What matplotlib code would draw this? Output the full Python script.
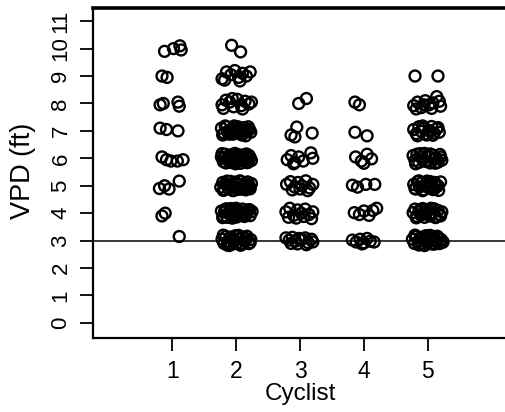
import matplotlib

matplotlib.use("Agg")
import matplotlib.pyplot as plt

plt.rcParams["font.family"] = ["Liberation Sans", "DejaVu Sans"]

# x = cyclist number plus jitter, y = VPD in feet (jittered)
cyc1_x = [0.88, 1.02, 1.12, 1.14, 0.84, 0.92, 0.81, 0.86, 1.09, 1.11,
          0.81, 0.91, 1.09, 0.84, 0.91, 0.98, 1.08, 1.17, 0.80, 0.88,
          0.95, 1.11, 0.84, 0.89, 1.11]
cyc1_y = [9.90, 10.00, 10.10, 9.95, 9.00, 8.95, 7.95, 8.00, 8.05, 7.90,
          7.10, 7.05, 7.00, 6.05, 5.95, 5.90, 5.90, 5.95, 4.90, 5.00,
          4.88, 5.17, 3.90, 4.00, 3.15]

cyc2_x = ([1.93, 2.07]
          + [1.78, 1.85, 1.92, 1.98, 2.04, 2.10, 2.16, 2.22, 1.82, 2.06]
          + [1.78, 1.84, 1.90, 1.96, 2.02, 2.08, 2.14, 2.20, 1.80, 1.94, 2.10, 2.24]
          + [1.77, 1.81, 1.85, 1.89, 1.93, 1.97, 2.01, 2.05, 2.09, 2.13, 2.17, 2.21,
             1.79, 1.83, 1.87, 1.91, 1.95, 1.99, 2.03, 2.07, 2.11, 2.15, 2.19, 2.23,
             1.88, 1.96, 2.04, 2.12]
          + [1.77, 1.80, 1.83, 1.86, 1.89, 1.92, 1.95, 1.98, 2.01, 2.04, 2.07, 2.10,
             2.13, 2.16, 2.19, 2.22, 2.24, 1.78, 1.84, 1.90, 1.96, 2.02, 2.08, 2.14,
             2.20, 1.81, 1.93, 2.05, 2.17, 1.99, 1.87, 1.94, 2.00, 2.11, 2.18]
          + [1.76, 1.79, 1.82, 1.85, 1.88, 1.91, 1.94, 1.97, 2.00, 2.03, 2.06, 2.09,
             2.12, 2.15, 2.18, 2.21, 2.24, 1.80, 1.86, 1.92, 1.98, 2.04, 2.10, 2.16,
             2.22, 1.83, 1.95, 2.07, 2.19, 2.01, 1.89, 1.97, 2.05, 2.13, 2.20]
          + [1.77, 1.80, 1.83, 1.86, 1.89, 1.92, 1.95, 1.98, 2.01, 2.04, 2.07, 2.10,
             2.13, 2.16, 2.19, 2.22, 2.25, 1.79, 1.85, 1.91, 1.97, 2.03, 2.09, 2.15,
             2.21, 1.82, 1.94, 2.06, 2.18, 2.00, 1.88, 1.96, 2.08, 2.14]
          + [1.78, 1.81, 1.84, 1.87, 1.90, 1.93, 1.96, 1.99, 2.02, 2.05, 2.08, 2.11,
             2.14, 2.17, 2.20, 2.23, 1.80, 1.86, 1.92, 1.98, 2.04, 2.10, 2.16, 2.22,
             1.89, 2.07])
cyc2_y = ([10.12, 9.88]
          + [8.90, 9.15, 9.05, 9.20, 8.95, 9.10, 9.00, 9.15, 8.85, 8.82]
          + [7.95, 8.12, 8.05, 7.88, 8.15, 7.92, 8.08, 7.98, 7.82, 8.18, 7.80, 8.05]
          + [7.10, 6.92, 7.15, 6.88, 7.05, 7.18, 6.95, 7.08, 6.85, 7.12, 6.98, 7.05,
             6.85, 7.18, 6.95, 7.02, 6.88, 7.12, 7.15, 6.90, 7.05, 6.82, 7.15, 6.95,
             7.00, 6.97, 7.03, 6.99]
          + [6.05, 5.88, 6.15, 5.95, 6.10, 5.85, 6.02, 6.18, 5.90, 6.08, 5.82, 6.12,
             5.97, 6.16, 5.86, 6.03, 5.92, 6.17, 5.83, 6.00, 5.87, 6.14, 6.06, 5.89,
             6.11, 6.01, 6.13, 5.94, 5.84, 5.80, 6.00, 5.96, 6.04, 5.98, 6.02]
          + [4.95, 5.12, 4.86, 5.05, 4.90, 5.16, 4.98, 4.84, 5.10, 4.92, 5.18, 4.88,
             5.03, 4.85, 5.14, 4.96, 5.08, 4.83, 5.17, 5.00, 5.13, 4.87, 4.94, 5.11,
             4.89, 5.07, 4.82, 5.15, 5.02, 4.91, 5.01, 4.97, 5.04, 4.99, 5.02]
          + [4.08, 3.90, 4.14, 3.85, 4.02, 4.17, 3.93, 4.10, 3.86, 4.05, 3.95, 4.15,
             3.88, 4.03, 4.12, 3.91, 4.06, 3.84, 4.16, 3.98, 3.87, 4.11, 4.00, 3.92,
             4.13, 4.04, 3.82, 3.96, 4.09, 4.18, 4.01, 3.97, 4.03, 3.99]
          + [3.05, 2.90, 3.15, 2.95, 3.10, 2.86, 3.02, 3.18, 2.92, 3.08, 2.88, 3.12,
             2.97, 3.16, 2.89, 3.04, 3.20, 2.84, 3.13, 2.99, 3.19, 2.87, 3.07, 2.93,
             2.82, 2.83])

cyc3_x = ([2.98, 3.10]
          + [2.86, 2.95, 3.19, 2.92]
          + [2.80, 2.86, 2.92, 2.98, 3.05, 3.17, 3.20, 2.90]
          + [2.79, 2.85, 2.92, 2.97, 3.03, 3.09, 3.15, 3.20, 2.88, 3.00, 3.12]
          + [2.78, 2.84, 2.90, 2.96, 3.02, 3.08, 3.14, 3.20, 2.82, 2.94, 3.06, 3.18]
          + [2.78, 2.83, 2.88, 2.93, 2.98, 3.03, 3.08, 3.13, 3.18, 2.86, 2.96, 3.10, 3.20])
cyc3_y = ([8.00, 8.18]
          + [6.85, 7.14, 6.92, 6.78]
          + [5.95, 6.10, 5.85, 6.05, 5.90, 6.20, 6.00, 5.80]
          + [5.05, 5.15, 4.95, 5.12, 5.00, 5.18, 4.92, 5.05, 4.85, 4.88, 4.82]
          + [4.05, 4.18, 3.92, 4.12, 4.00, 4.15, 3.95, 4.05, 3.85, 3.82, 3.88, 3.80]
          + [3.10, 3.02, 3.12, 2.98, 3.08, 3.05, 3.10, 2.92, 3.05, 2.90, 2.88, 2.85, 2.95])

cyc4_x = ([3.86, 3.93]
          + [3.86, 4.05]
          + [3.87, 3.96, 4.05, 4.12, 4.00]
          + [3.82, 3.90, 4.03, 4.17]
          + [3.85, 3.93, 4.00, 4.08, 4.14, 4.20]
          + [3.82, 3.88, 3.94, 4.00, 4.05, 4.10, 4.16, 3.97])
cyc4_y = ([8.05, 7.95]
          + [6.95, 6.82]
          + [6.05, 5.90, 6.15, 5.98, 5.82]
          + [5.02, 4.95, 5.05, 5.05]
          + [4.02, 3.95, 4.08, 3.92, 4.10, 4.18]
          + [3.02, 2.95, 3.05, 2.92, 3.08, 2.98, 2.95, 2.88])

cyc5_x = ([4.80, 5.16]
          + [4.78, 4.84, 4.90, 4.96, 5.02, 5.08, 5.14, 5.20, 4.82, 4.94, 5.06, 5.18]
          + [4.78, 4.82, 4.86, 4.90, 4.94, 4.98, 5.02, 5.06, 5.10, 5.14, 5.18, 4.84,
             4.92, 5.00, 5.08, 5.16]
          + [4.77, 4.80, 4.83, 4.86, 4.89, 4.92, 4.95, 4.98, 5.01, 5.04, 5.07, 5.10,
             5.13, 5.16, 5.19, 5.22, 4.81, 4.88, 4.96, 5.04, 5.12, 5.20]
          + [4.78, 4.81, 4.84, 4.87, 4.90, 4.93, 4.96, 4.99, 5.02, 5.05, 5.08, 5.11,
             5.14, 5.17, 5.20, 4.80, 4.86, 4.92, 4.98, 5.04, 5.10, 5.16, 4.95, 5.07]
          + [4.77, 4.80, 4.83, 4.86, 4.89, 4.92, 4.95, 4.98, 5.01, 5.04, 5.07, 5.10,
             5.13, 5.16, 5.19, 5.22, 4.82, 4.90, 4.97, 5.05, 5.12, 5.20, 4.94, 5.03]
          + [4.76, 4.79, 4.82, 4.85, 4.88, 4.91, 4.94, 4.97, 5.00, 5.03, 5.06, 5.09,
             5.12, 5.15, 5.18, 5.21, 5.24, 4.80, 4.86, 4.92, 4.98, 5.04, 5.10, 5.16,
             5.22, 4.95, 5.01, 5.13])
cyc5_y = ([9.00, 9.00]
          + [7.92, 8.05, 7.85, 8.10, 7.95, 8.02, 8.25, 7.90, 7.80, 7.95, 7.82, 8.08]
          + [7.05, 6.90, 7.15, 6.98, 7.10, 6.85, 7.02, 7.16, 6.92, 7.08, 6.95, 6.82,
             7.18, 6.88, 6.84, 7.12]
          + [6.10, 5.92, 6.15, 5.85, 6.05, 5.95, 6.18, 5.88, 6.08, 5.83, 6.12, 5.97,
             6.02, 5.86, 6.14, 5.93, 5.80, 6.17, 5.90, 6.16, 5.82, 6.05]
          + [5.05, 4.88, 5.15, 4.95, 5.10, 4.85, 5.02, 5.17, 4.92, 5.08, 4.86, 5.12,
             4.97, 4.83, 5.14, 4.90, 5.18, 4.82, 4.98, 5.15, 4.88, 5.00, 5.01, 4.99]
          + [4.02, 4.15, 3.88, 4.08, 3.93, 4.17, 3.85, 4.05, 4.12, 3.90, 4.00, 4.16,
             3.86, 4.10, 3.95, 4.05, 3.83, 4.13, 3.97, 4.18, 3.84, 3.90, 4.01, 3.98]
          + [3.05, 2.90, 3.15, 2.95, 3.10, 2.86, 3.02, 3.18, 2.92, 3.08, 2.88, 3.12,
             2.97, 3.16, 2.89, 3.04, 2.95, 3.20, 2.84, 3.13, 2.99, 3.19, 2.87, 3.07,
             2.93, 2.82, 3.00, 2.98])

cyclist_ticks = [1, 2, 3, 4, 5]
vpd_ticks = list(range(0, 12))
threshold = 3

fig = plt.figure(figsize=(5.05, 4.12), dpi=100)
ax = fig.add_axes([93 / 505, 74 / 412, 414 / 505, 330 / 412])

for xs, ys in [(cyc1_x, cyc1_y), (cyc2_x, cyc2_y), (cyc3_x, cyc3_y),
               (cyc4_x, cyc4_y), (cyc5_x, cyc5_y)]:
    ax.scatter(xs, ys, s=62, facecolors="none", edgecolors="black",
               linewidths=1.7, zorder=3)

ax.axhline(threshold, color="black", linewidth=1.1, zorder=2)

ax.set_xlim(-0.24, 6.24)
ax.set_ylim(-0.55, 11.48)
ax.set_xticks(cyclist_ticks)
ax.set_yticks(vpd_ticks)

for side in ("left", "bottom", "right"):
    ax.spines[side].set_linewidth(1.6)
ax.spines["top"].set_linewidth(2.6)

ax.tick_params(axis="both", length=9.5, width=1.3, pad=6)
ax.tick_params(axis="x", labelsize=16.5)
ax.tick_params(axis="y", labelsize=16, labelrotation=90)
for lbl in ax.get_yticklabels():
    lbl.set_va("center")

ax.set_xlabel("Cyclist", fontsize=17.5)
ax.set_ylabel("VPD (ft)", fontsize=19.5)
ax.xaxis.set_label_coords(0.5, -0.135)
ax.yaxis.set_label_coords(-0.138, 0.505)

fig.savefig("out.png", dpi=100)
